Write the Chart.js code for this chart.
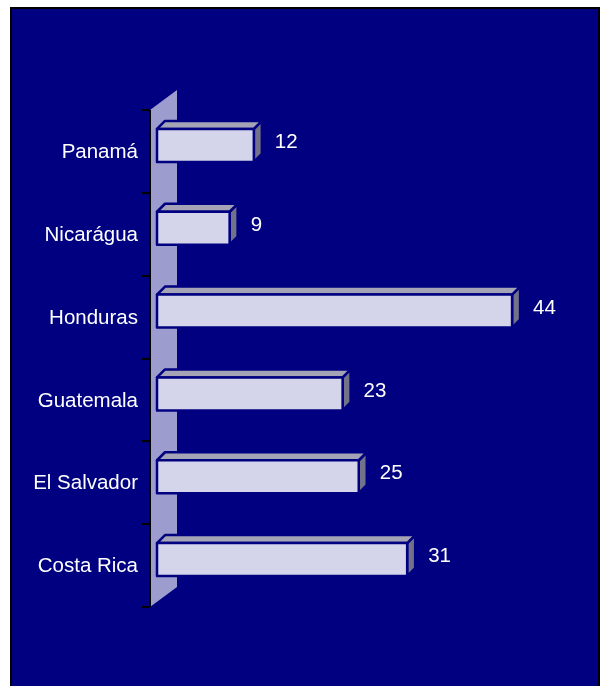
<!DOCTYPE html>
<html lang="en">
<head>
    <meta charset="UTF-8">
    <title>Bar chart</title>
    <script src="https://cdn.jsdelivr.net/npm/chart.js@4.4.0/dist/chart.umd.min.js"></script>
    <style>
        body {
            margin: 0;
            background: #ffffff;
            width: 601px;
            height: 686px;
            overflow: hidden;
            position: relative;
        }
        .frame {
            position: absolute;
            left: 10px;
            top: 7px;
            width: 586px;
            height: 700px;
            background: #000080;
            border: 2px solid #000000;
        }
        #chart {
            position: absolute;
            left: 0;
            top: 0;
        }
    </style>
</head>
<body>
    <div class="frame"></div>
    <canvas id="chart" width="601" height="686"></canvas>
    <script>
        // categories top to bottom
        const countries = ['Panamá', 'Nicarágua', 'Honduras', 'Guatemala', 'El Salvador', 'Costa Rica'];
        const values = [12, 9, 44, 23, 25, 31];
        const xMax = 50;

        const FONT = '20.5px Arial, "Liberation Sans", sans-serif';
        const NAVY = '#000080';

        // fake 3d look: wall on the left, depth on each bar
        const box3d = {
            id: 'box3d',
            beforeDatasetsDraw(chart) {
                const ctx = chart.ctx;
                const a = chart.chartArea;
                const yScale = chart.scales.y;
                const wl = a.left - 7, wr = a.left + 20, dy = 20;
                ctx.save();
                ctx.fillStyle = '#9c9cce';
                ctx.beginPath();
                ctx.moveTo(wl, a.top);
                ctx.lineTo(wr, a.top - dy);
                ctx.lineTo(wr, a.bottom - dy);
                ctx.lineTo(wl, a.bottom);
                ctx.closePath();
                ctx.fill();
                ctx.strokeStyle = '#000000';
                ctx.lineWidth = 2;
                ctx.beginPath();
                ctx.moveTo(wl, a.top);
                ctx.lineTo(wl, a.bottom);
                const step = (a.bottom - a.top) / countries.length;
                for (let i = 0; i <= countries.length; i++) {
                    const y = Math.round(a.top + i * step);
                    ctx.moveTo(wl - 8, y);
                    ctx.lineTo(wl, y);
                }
                ctx.stroke();

                // category labels
                ctx.fillStyle = '#ffffff';
                ctx.font = FONT;
                ctx.textAlign = 'right';
                ctx.textBaseline = 'middle';
                countries.forEach((c, i) => {
                    ctx.fillText(c, a.left - 19, yScale.getPixelForValue(i) + 1);
                });
                ctx.restore();
            },
            afterDatasetsDraw(chart) {
                const ctx = chart.ctx;
                const meta = chart.getDatasetMeta(0);
                const d = 8;
                ctx.save();
                ctx.lineJoin = 'round';
                meta.data.forEach((bar, i) => {
                    const x0 = bar.base, x1 = bar.x;
                    const h = bar.height;
                    const top = bar.y - h / 2 - 6, bot = bar.y + h / 2 - 6;
                    ctx.lineWidth = 2.5;
                    ctx.strokeStyle = NAVY;
                    // right face
                    ctx.fillStyle = '#72728a';
                    ctx.beginPath();
                    ctx.moveTo(x1, top);
                    ctx.lineTo(x1 + d, top - d);
                    ctx.lineTo(x1 + d, bot - d);
                    ctx.lineTo(x1, bot);
                    ctx.closePath();
                    ctx.fill();
                    ctx.stroke();
                    // top face
                    ctx.fillStyle = '#a4a4b6';
                    ctx.beginPath();
                    ctx.moveTo(x0, top);
                    ctx.lineTo(x0 + d, top - d);
                    ctx.lineTo(x1 + d, top - d);
                    ctx.lineTo(x1, top);
                    ctx.closePath();
                    ctx.fill();
                    ctx.stroke();
                    // front face
                    ctx.fillStyle = '#d4d4ea';
                    ctx.fillRect(x0, top, x1 - x0, bot - top);
                    ctx.strokeRect(x0, top, x1 - x0, bot - top);

                    // value label
                    ctx.fillStyle = '#ffffff';
                    ctx.font = FONT;
                    ctx.textAlign = 'left';
                    ctx.textBaseline = 'middle';
                    ctx.fillText(String(values[i]), x1 + d + 13, (top - d + bot) / 2 + 1);
                });
                ctx.restore();
            }
        };

        new Chart(document.getElementById('chart'), {
            type: 'bar',
            data: {
                labels: countries,
                datasets: [{
                    data: values,
                    backgroundColor: 'rgba(0,0,0,0)',
                    borderWidth: 0,
                    barThickness: 33
                }]
            },
            options: {
                indexAxis: 'y',
                responsive: false,
                animation: false,
                events: [],
                layout: {
                    padding: { left: 157, right: 40.5, top: 110, bottom: 79 }
                },
                plugins: {
                    legend: { display: false },
                    tooltip: { enabled: false }
                },
                scales: {
                    x: { display: false, min: 0, max: xMax },
                    y: { display: false }
                }
            },
            plugins: [box3d]
        });
    </script>
</body>
</html>
